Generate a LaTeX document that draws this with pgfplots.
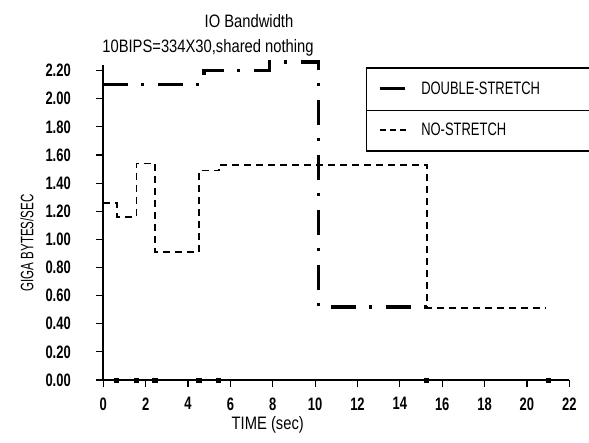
\documentclass[border=0pt]{standalone}
\usepackage{fontspec}
\setmainfont{Liberation Sans}
\newfontfamily\titlefont{Liberation Sans}[FakeStretch=0.82]
\newfontfamily\tickfont{Liberation Sans Bold}[FakeStretch=0.72]
\newfontfamily\condfont{Liberation Sans}[FakeStretch=0.64]
\newfontfamily\legfont{Liberation Sans}[FakeStretch=0.72]
\usepackage{pgfplots}
\pgfplotsset{compat=1.18}

\begin{document}
\begin{tikzpicture}
\useasboundingbox (0pt,0pt) rectangle (589pt,442pt);
% titles (two lines, not centred on the same point)
\node[anchor=base, font=\titlefont\fontsize{18}{18}\selectfont] at (249pt,414pt) {IO Bandwidth};
\node[anchor=base, font=\titlefont\fontsize{18}{18}\selectfont] at (208pt,389pt) {10BIPS=334X30,shared nothing};
\begin{axis}[
    at={(103.3pt,62pt)}, anchor=south west,
    scale only axis,
    width=466pt, height=315pt,
    xmin=0, xmax=22, ymin=0, ymax=2.24,
    axis lines=left,
    axis line style={-, line width=1.6pt},
    clip=false,
    xtick={0,2,...,22},
    ytick={0,0.2,...,2.2},
    tick align=outside,
    major tick length=7pt,
    tick style={line width=1.2pt, black},
    /pgf/number format/assume math mode=true,
    ticklabel style={font=\tickfont\fontsize{18}{18}\selectfont},
    yticklabel style={anchor=east, xshift=-22pt,
        /pgf/number format/.cd, fixed, fixed zerofill, precision=2},
    xticklabel style={anchor=north, yshift=-7pt},
    xlabel={TIME (sec)},
    ylabel={GIGA BYTES/SEC},
    xlabel style={at={(axis description cs:0.353,-0.156)}, anchor=base,
        font=\titlefont\fontsize{18}{18}\selectfont},
    ylabel style={at={(axis description cs:-0.164,0.435)}, anchor=center,
        font=\condfont\fontsize{18}{18}\selectfont},
    legend style={at={(axis description cs:0.564,0.993)}, anchor=north west,
        draw=black, fill=none, line width=1.3pt, inner xsep=0pt, inner ysep=0pt,
        row sep=0pt, font=\legfont\fontsize{18}{18}\selectfont,
        nodes={minimum height=41.5pt, inner sep=0pt, text width=190pt, align=left},
        /tikz/every odd column/.append style={column sep=15pt}},
]
\addplot[black, line width=3.5pt, dash pattern=on 25pt off 13pt on 3pt off 14pt,
    legend image code/.code={\path (0pt,0pt); \draw[line width=3pt, solid] (11pt,0pt) -- (36pt,0pt);}]
coordinates {
    (0,2.10) (4.75,2.10) (4.75,2.20) (7.85,2.20) (7.85,2.26)
    (10.15,2.26) (10.15,0.52) (15.27,0.52)
};
\addplot[black, line width=1.8pt, dash pattern=on 7pt off 5pt,
    legend image code/.code={\path (0pt,0pt); \draw[line width=1.5pt, dash pattern=on 6pt off 4pt] (11pt,0pt) -- (37pt,0pt);}]
coordinates {
    (0,1.26) (0.63,1.26) (0.63,1.16) (1.57,1.16) (1.57,1.54) (2.43,1.54)
    (2.43,0.91) (4.51,0.91) (4.51,1.49) (5.45,1.49) (5.45,1.53)
    (15.27,1.53) (15.27,0.51) (20.9,0.51)
};
\legend{DOUBLE-STRETCH,NO-STRETCH}
\addplot[only marks, mark=square*, mark size=2.3pt, black, forget plot] coordinates {
    (0.6,0) (1.55,0) (2.42,0) (4.5,0) (5.42,0) (15.25,0) (21.0,0)
};
\draw[line width=1.3pt] (axis description cs:0.564,0.855) -- (axis description cs:1.3,0.855);
\end{axis}
\end{tikzpicture}
\end{document}
